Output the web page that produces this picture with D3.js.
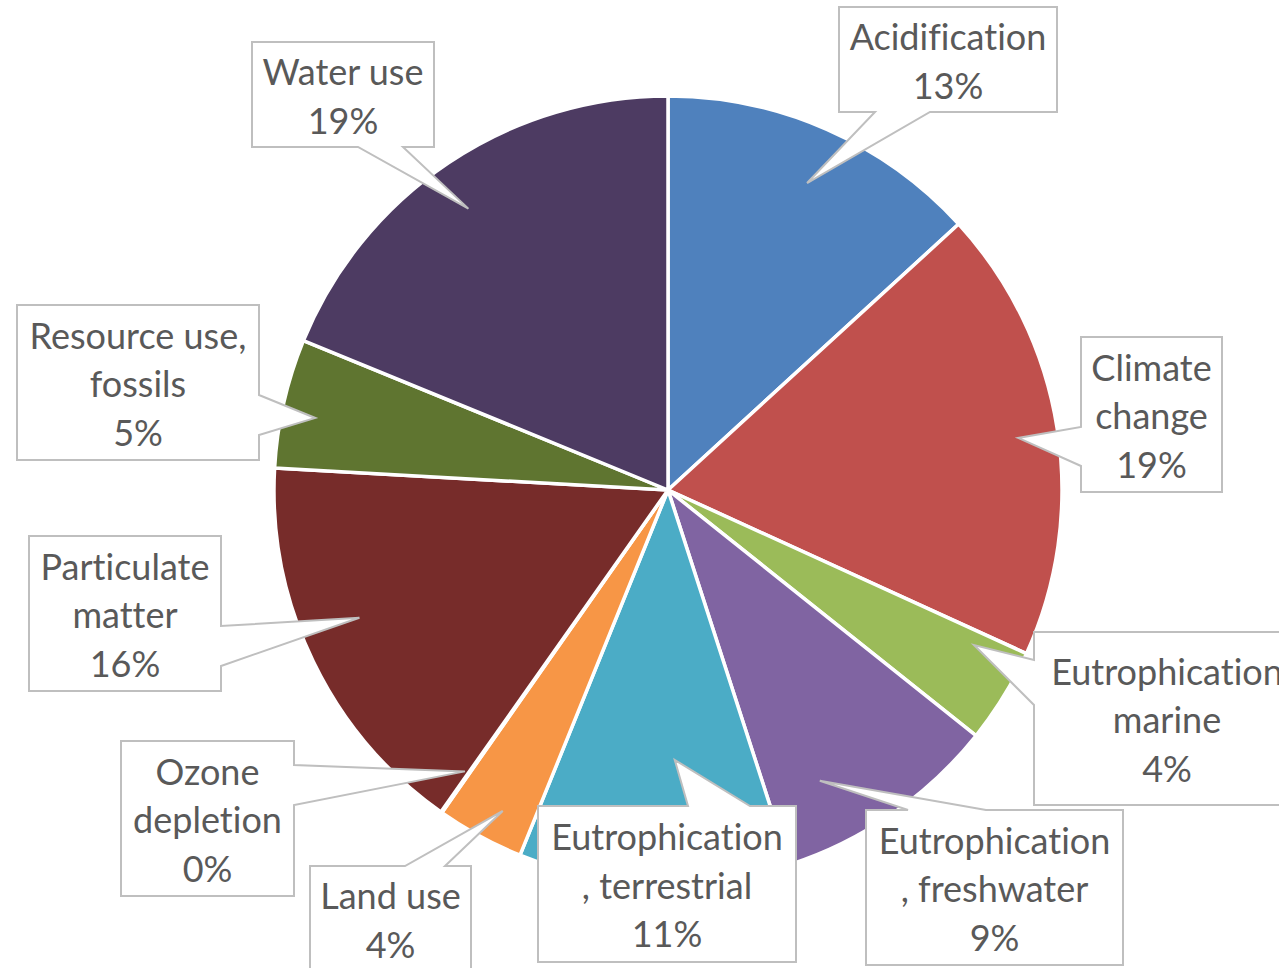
<!DOCTYPE html>
<html>
<head>
<meta charset="utf-8">
<script src="https://cdn.jsdelivr.net/npm/d3@7"></script>
<style>
  body { margin: 0; background: #fff; }
  svg { display: block; }
  text { font-variant-ligatures: none; }
</style>
</head>
<body>
<div id="chart"></div>
<script>
// impact categories and their shares
var categories = ["Acidification", "Climate change", "Eutrophication marine",
  "Eutrophication, freshwater", "Eutrophication, terrestrial", "Land use",
  "Ozone depletion", "Particulate matter", "Resource use, fossils", "Water use"];
var values = [13.2, 18.6, 3.9, 9.3, 11.1, 3.6, 0.05, 16.1, 5.3, 18.8];
var labelLines = [
  ["Acidification"],
  ["Climate", "change"],
  ["Eutrophication", "marine"],
  ["Eutrophication", ", freshwater"],
  ["Eutrophication", ", terrestrial"],
  ["Land use"],
  ["Ozone", "depletion"],
  ["Particulate", "matter"],
  ["Resource use,", "fossils"],
  ["Water use"]
];
var colors = ["#4F81BD", "#C0504D", "#9BBB59", "#8064A2", "#4BACC6",
  "#F79646", "#2C4D75", "#772C2A", "#5F7530", "#4D3B62"];

// callout boxes: x, y, w, h, side the pointer leaves from, pointer base, tip radius / angle nudge
var callouts = [
  {x: 839, y: 7, w: 218, h: 105, side: "bottom", b0: 875, b1: 930, r: 337, da: 0.6},
  {x: 1081, y: 337, w: 141, h: 155, side: "left", b0: 427, b1: 466, r: 354, da: 0.5},
  {x: 1034, y: 632, w: 266, h: 173, side: "left", b0: 660, b1: 705, r: 343, da: -4.7},
  {x: 866, y: 810, w: 257, h: 155, side: "top", b0: 908, b1: 986, r: 328, da: 7.1},
  {x: 538, y: 806, w: 258, h: 156, side: "top", b0: 688, b1: 750, r: 270, da: -3.5},
  {x: 310, y: 866, w: 161, h: 105, side: "top", b0: 405, b1: 445, r: 361, da: -1.3},
  {x: 121, y: 741, w: 173, h: 155, side: "right", b0: 765, b1: 805, r: 347, da: 0.7},
  {x: 29, y: 536, w: 192, h: 155, side: "right", b0: 626, b1: 666, r: 334, da: 3.3},
  {x: 17, y: 305, w: 242, h: 155, side: "right", b0: 395, b1: 435, r: 360, da: -1.2},
  {x: 252, y: 42, w: 182, h: 105, side: "bottom", b0: 358, b1: 403, r: 345, da: -1.5}
];

var svgWidth = 1279;
var svgHeight = 968;
var cx = 668, cy = 490, radius = 394;

var svg = d3.select("#chart")
  .append("svg")
  .attr("width", svgWidth)
  .attr("height", svgHeight);

var pie = d3.pie().sort(null).value(d => d);
var arcs = pie(values);
var total = d3.sum(values);

var arc = d3.arc().innerRadius(0).outerRadius(radius);

var pieGroup = svg.append("g")
  .attr("transform", `translate(${cx}, ${cy})`);

pieGroup.selectAll("path")
  .data(arcs)
  .enter()
  .append("path")
  .attr("d", arc)
  .attr("fill", (d, i) => colors[i])
  .attr("stroke", "#fff")
  .attr("stroke-width", 3.5)
  .attr("stroke-linejoin", "round");

// build callout outline: box with a pointer going out to the tip
function calloutPath(c, tip) {
  var x0 = c.x, y0 = c.y, x1 = c.x + c.w, y1 = c.y + c.h;
  var p = [];
  p.push([x0, y0]);
  if (c.side == "top") { p.push([c.b0, y0], tip, [c.b1, y0]); }
  p.push([x1, y0]);
  if (c.side == "right") { p.push([x1, c.b0], tip, [x1, c.b1]); }
  p.push([x1, y1]);
  if (c.side == "bottom") { p.push([c.b1, y1], tip, [c.b0, y1]); }
  p.push([x0, y1]);
  if (c.side == "left") { p.push([x0, c.b1], tip, [x0, c.b0]); }
  return "M" + p.map(q => q.join(",")).join("L") + "Z";
}

var labelGroup = svg.append("g");

arcs.forEach(function(d, i) {
  var c = callouts[i];
  var a = (d.startAngle + d.endAngle) / 2 + c.da * Math.PI / 180;
  var tip = [cx + c.r * Math.sin(a), cy - c.r * Math.cos(a)];

  labelGroup.append("path")
    .attr("d", calloutPath(c, tip))
    .attr("fill", "#fff")
    .attr("stroke", "#BFBFBF")
    .attr("stroke-width", 2)
    .attr("stroke-linejoin", "miter");

  var lines = labelLines[i].concat([Math.round(d.data / total * 100) + "%"]);
  var lineH = 48.5;
  var midY = c.y + c.h / 2 + 2;
  var t = labelGroup.append("text")
    .attr("text-anchor", "middle")
    .attr("font-family", "Lato, 'Open Sans', sans-serif")
    .attr("font-size", 36)
    .attr("fill", "#595959");
  lines.forEach(function(s, k) {
    t.append("tspan")
      .attr("x", c.x + c.w / 2)
      .attr("y", midY + (k - (lines.length - 1) / 2) * lineH)
      .attr("dy", "0.36em")
      .text(s);
  });
});
</script>
</body>
</html>
